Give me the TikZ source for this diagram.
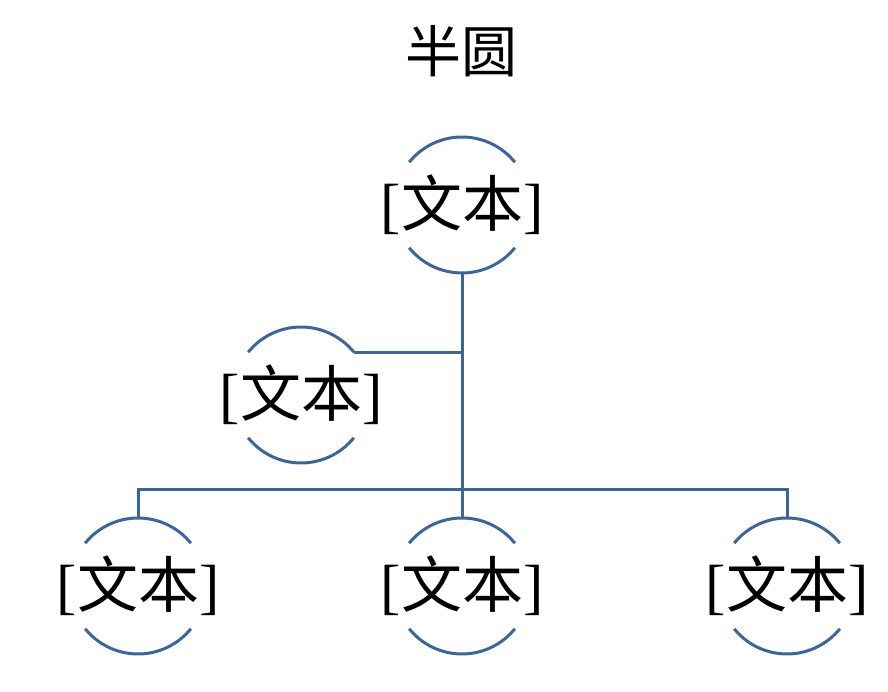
\documentclass[tikz,border=0pt]{standalone}
\usepackage{fontspec}
\setmainfont{Liberation Serif}
\newfontfamily\cjk{Noto Sans CJK SC}
\definecolor{lineblue}{HTML}{3C659C}
\tikzset{
  conn/.style={draw=lineblue, line width=3pt},
  arcline/.style={draw=lineblue, line width=3pt},
  label/.style={inner sep=0pt, font=\fontsize{61}{63}\selectfont},
  titletext/.style={inner sep=0pt, font=\cjk\fontsize{56}{58}\selectfont}
}
\newcommand\semiarcs[1]{%
  \draw[arcline] ([shift={(141:68)}]#1.center) arc[start angle=141, end angle=39, radius=68];
  \draw[arcline] ([shift={(219:68)}]#1.center) arc[start angle=219, end angle=321, radius=68];
}
\begin{document}
\begin{tikzpicture}[x=1pt,y=1pt]
\useasboundingbox (0,0) rectangle (888,692);
\node[titletext] (title) at (461,641) {半圆};
\node[label] (t)  at (462,487) {[{\cjk 文本}]};
\node[label] (a)  at (301,297) {[{\cjk 文本}]};
\node[label] (bl) at (138,106) {[{\cjk 文本}]};
\node[label] (bm) at (462,106) {[{\cjk 文本}]};
\node[label] (br) at (787,106) {[{\cjk 文本}]};
\foreach \n in {t,a,bl,bm,br}{\semiarcs{\n}}
\coordinate (tbot) at ([yshift=-68]t.center);
\coordinate (bmtop) at ([yshift=68]bm.center);
\coordinate (bltop) at ([yshift=68]bl.center);
\coordinate (brtop) at ([yshift=68]br.center);
\coordinate (aend) at ([shift={(39:68)}]a.center);
\coordinate (hline) at (462,202);
\draw[conn] (tbot) -- (bmtop);
\draw[conn] (aend) -- (aend -| tbot);
\draw[conn] (bltop) |- (hline) -| (brtop);
\end{tikzpicture}
\end{document}
